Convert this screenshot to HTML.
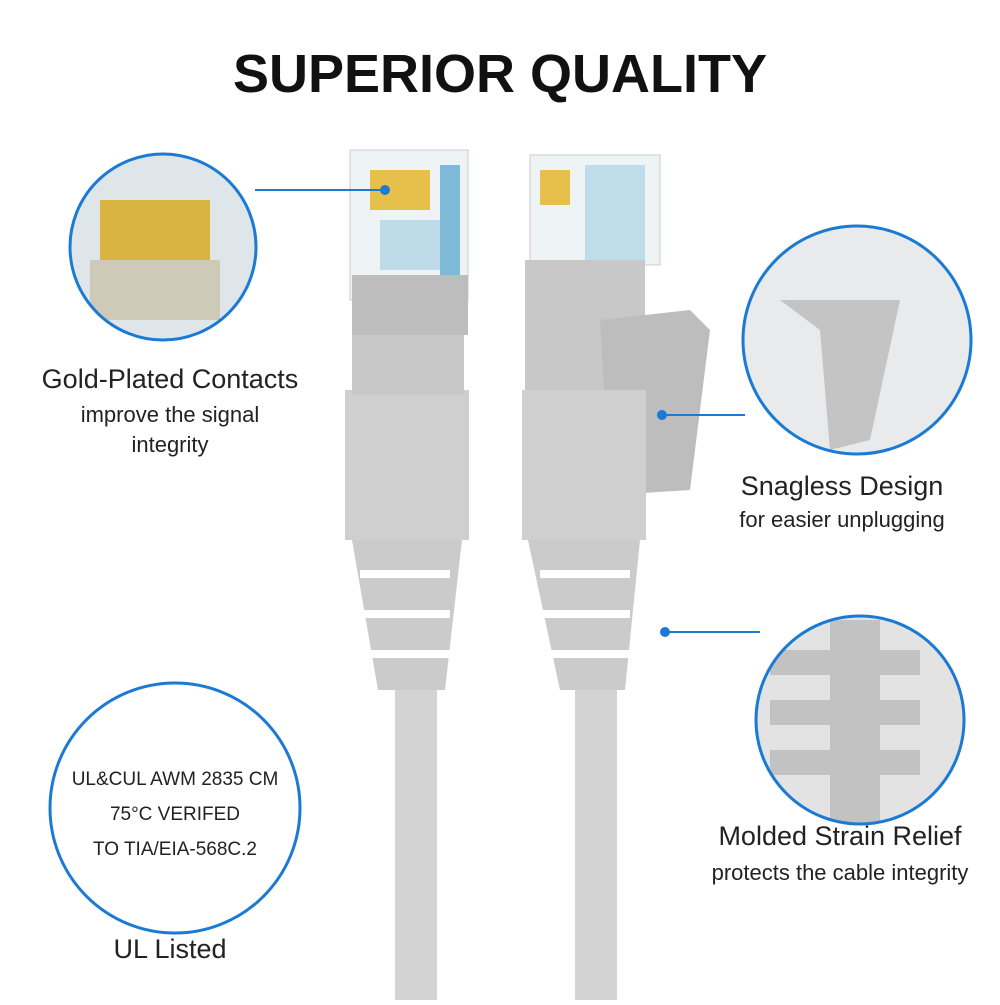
<!DOCTYPE html>
<html><head><style>
body{margin:0;background:#fff;width:1000px;height:1000px;overflow:hidden;font-family:"Liberation Sans",sans-serif}
</style></head><body>
<svg width="1000" height="1000" xmlns="http://www.w3.org/2000/svg">
<defs>
<clipPath id="c1"><circle cx="163" cy="247" r="93"/></clipPath>
<clipPath id="c2"><circle cx="857" cy="340" r="114"/></clipPath>
<clipPath id="c3"><circle cx="860" cy="720" r="104"/></clipPath>
</defs>
<text x="500" y="92" text-anchor="middle" font-family="Liberation Sans" font-weight="bold" font-size="54" fill="#111">SUPERIOR QUALITY</text>

<!-- left cable -->
<rect x="395" y="680" width="42" height="320" fill="#d3d3d3"/>
<rect x="350" y="150" width="118" height="150" fill="#eef3f5" stroke="#ccc"/>
<rect x="370" y="170" width="60" height="40" fill="#e6c04a"/>
<rect x="440" y="165" width="20" height="110" fill="#7fb9d8"/>
<rect x="380" y="220" width="60" height="50" fill="#9ccbe0" opacity=".6"/>
<rect x="352" y="275" width="116" height="60" fill="#bdbdbd"/>
<rect x="345" y="390" width="124" height="150" fill="#cfcfcf"/>
<rect x="352" y="335" width="112" height="60" fill="#c8c8c8"/>
<path d="M352 540 L462 540 L445 690 L378 690 Z" fill="#cbcbcb"/>
<g fill="#fff"><rect x="360" y="570" width="90" height="8"/><rect x="360" y="610" width="90" height="8"/><rect x="360" y="650" width="90" height="8"/></g>

<!-- right cable -->
<rect x="575" y="680" width="42" height="320" fill="#d3d3d3"/>
<rect x="530" y="155" width="130" height="110" fill="#eef3f5" stroke="#ccc"/>
<rect x="540" y="170" width="30" height="35" fill="#e6c04a"/>
<rect x="585" y="165" width="60" height="100" fill="#a9d2e6" opacity=".7"/>
<rect x="525" y="260" width="120" height="130" fill="#c8c8c8"/>
<path d="M600 320 L690 310 L710 330 L690 490 L610 495 Z" fill="#bdbdbd"/>
<rect x="522" y="390" width="124" height="150" fill="#cfcfcf"/>
<path d="M528 540 L640 540 L625 690 L560 690 Z" fill="#cbcbcb"/>
<g fill="#fff"><rect x="540" y="570" width="90" height="8"/><rect x="540" y="610" width="90" height="8"/><rect x="540" y="650" width="90" height="8"/></g>

<!-- circles -->
<circle cx="163" cy="247" r="93" fill="#dfe6ea"/>
<g clip-path="url(#c1)"><rect x="100" y="200" width="110" height="60" fill="#d9b441"/><rect x="90" y="260" width="130" height="60" fill="#cfc9b8"/></g>
<circle cx="163" cy="247" r="93" fill="none" stroke="#1a7ad4" stroke-width="3"/>
<circle cx="857" cy="340" r="114" fill="#e8eaec"/>
<g clip-path="url(#c2)"><path d="M780 300 L900 300 L870 440 L830 450 L820 330 Z" fill="#c4c4c4"/></g>
<circle cx="857" cy="340" r="114" fill="none" stroke="#1a7ad4" stroke-width="3"/>
<circle cx="860" cy="720" r="104" fill="#e3e3e3"/>
<g clip-path="url(#c3)" fill="#c2c2c2"><rect x="770" y="650" width="150" height="25"/><rect x="770" y="700" width="150" height="25"/><rect x="770" y="750" width="150" height="25"/><rect x="830" y="620" width="50" height="210"/></g>
<circle cx="860" cy="720" r="104" fill="none" stroke="#1a7ad4" stroke-width="3"/>
<circle cx="175" cy="808" r="125" fill="#fff" stroke="#1a7ad4" stroke-width="3"/>

<!-- connectors -->
<line x1="255" y1="190" x2="385" y2="190" stroke="#1a7ad4" stroke-width="2"/>
<circle cx="385" cy="190" r="5" fill="#1a7ad4"/>
<line x1="662" y1="415" x2="745" y2="415" stroke="#1a7ad4" stroke-width="2"/>
<circle cx="662" cy="415" r="5" fill="#1a7ad4"/>
<line x1="665" y1="632" x2="760" y2="632" stroke="#1a7ad4" stroke-width="2"/>
<circle cx="665" cy="632" r="5" fill="#1a7ad4"/>

<g font-family="Liberation Sans" fill="#222" text-anchor="middle">
<text x="170" y="388" font-size="27">Gold-Plated Contacts</text>
<text x="170" y="422" font-size="22">improve the signal</text>
<text x="170" y="452" font-size="22">integrity</text>
<text x="842" y="495" font-size="27">Snagless Design</text>
<text x="842" y="527" font-size="22">for easier unplugging</text>
<text x="840" y="845" font-size="27">Molded Strain Relief</text>
<text x="840" y="880" font-size="22">protects the cable integrity</text>
<text x="175" y="785" font-size="19">UL&amp;CUL AWM 2835 CM</text>
<text x="175" y="820" font-size="19">75°C VERIFED</text>
<text x="175" y="855" font-size="19">TO TIA/EIA-568C.2</text>
<text x="170" y="958" font-size="27">UL Listed</text>
</g>
</svg>
</body></html>
